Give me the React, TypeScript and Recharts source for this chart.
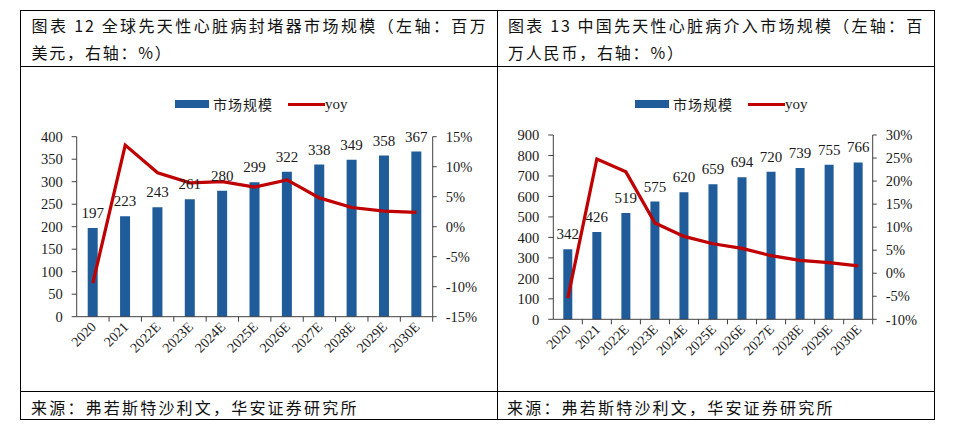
import { ComposedChart, Bar, Line, XAxis, YAxis, LabelList } from "recharts";

const years = ["2020", "2021", "2022E", "2023E", "2024E", "2025E", "2026E", "2027E", "2028E", "2029E", "2030E"];

// 图表12 全球先天性心脏病封堵器市场规模
const globalSize = [197, 223, 243, 261, 280, 299, 322, 338, 349, 358, 367];
const globalYoy = [-9.4, 13.6, 9.0, 7.3, 7.5, 6.6, 7.8, 4.8, 3.2, 2.6, 2.4];
const globalSizeTicks = [0, 50, 100, 150, 200, 250, 300, 350, 400];
const globalYoyTicks = [-15, -10, -5, 0, 5, 10, 15];

// 图表13 中国先天性心脏病介入市场规模
const chinaSize = [342, 426, 519, 575, 620, 659, 694, 720, 739, 755, 766];
const chinaYoy = [-5.4, 24.8, 22.0, 10.9, 8.0, 6.4, 5.4, 3.8, 2.8, 2.3, 1.6];
const chinaSizeTicks = [0, 100, 200, 300, 400, 500, 600, 700, 800, 900];
const chinaYoyTicks = [-10, -5, 0, 5, 10, 15, 20, 25, 30];

const barColor = "#1f5c99";
const lineColor = "#c00000";
const axisColor = "#404040";
const textColor = "#1a1a1a";
const serif = '"Liberation Serif", "Times New Roman", serif';
const cjk = '"Noto Sans CJK SC", "Noto Sans", sans-serif';

function makeXTick(band: number) {
  return (props: any) => {
    const { x, y, payload } = props;
    return (
      <g transform={`translate(${x},${y})`}>
        <line x1={band / 2} y1={0} x2={band / 2} y2={5} stroke={axisColor} />
        <text
          transform="translate(4,11) rotate(-45)"
          textAnchor="end"
          fontSize={14}
          fontFamily={serif}
          fill={textColor}
        >
          {payload.value}
        </text>
      </g>
    );
  };
}

function makeYTick(anchor: "start" | "end", suffix: string) {
  return (props: any) => {
    const { x, y, payload } = props;
    return (
      <text x={x} y={y} dy="0.36em" textAnchor={anchor} fontSize={14.5} fontFamily={serif} fill={textColor}>
        {`${payload.value}${suffix}`}
      </text>
    );
  };
}

interface PanelProps {
  sizes: number[];
  yoy: number[];
  sizeTicks: number[];
  yoyTicks: number[];
  width: number;
  height: number;
  margin: { top: number; right: number; bottom: number; left: number };
  barSize: number;
}

function Panel({ sizes, yoy, sizeTicks, yoyTicks, width, height, margin, barSize }: PanelProps) {
  const data = years.map((year, i) => ({ year, size: sizes[i], yoy: yoy[i] }));
  const axisW = 50;
  const band = (width - margin.left - margin.right - axisW * 2) / years.length;
  return (
    <ComposedChart width={width} height={height} data={data} margin={margin} style={{ fontFamily: serif }}>
      <XAxis
        dataKey="year"
        xAxisId="x"
        height={60}
        interval={0}
        tickLine={false}
        tickSize={0}
        tickMargin={0}
        axisLine={{ stroke: axisColor }}
        tick={makeXTick(band)}
      />
      <YAxis
        yAxisId="left"
        width={axisW}
        domain={[sizeTicks[0], sizeTicks[sizeTicks.length - 1]]}
        ticks={sizeTicks}
        interval={0}
        axisLine={{ stroke: axisColor }}
        tickLine={{ stroke: axisColor }}
        tickSize={5}
        tickMargin={9}
        tick={makeYTick("end", "")}
      />
      <YAxis
        yAxisId="right"
        orientation="right"
        width={axisW}
        domain={[yoyTicks[0], yoyTicks[yoyTicks.length - 1]]}
        ticks={yoyTicks}
        interval={0}
        axisLine={{ stroke: axisColor }}
        tickLine={{ stroke: axisColor }}
        tickSize={4}
        tickMargin={9}
        tick={makeYTick("start", "%")}
      />
      <Bar dataKey="size" xAxisId="x" yAxisId="left" fill={barColor} barSize={barSize} isAnimationActive={false}>
        <LabelList dataKey="size" position="top" offset={10} fontSize={15} fontFamily={serif} fill={textColor} />
      </Bar>
      <Line
        dataKey="yoy"
        xAxisId="x"
        yAxisId="right"
        type="linear"
        stroke={lineColor}
        strokeWidth={3.25}
        dot={false}
        activeDot={false}
        isAnimationActive={false}
      />
    </ComposedChart>
  );
}

function LegendRow({ left }: { left: number }) {
  return (
    <div style={{ position: "absolute", left, top: 94, height: 20, display: "flex", alignItems: "center" }}>
      <span style={{ display: "inline-block", width: 34, height: 7.5, background: barColor }} />
      <span style={{ marginLeft: 4, fontFamily: cjk, fontSize: 14, letterSpacing: 1, color: textColor }}>市场规模</span>
      <span style={{ display: "inline-block", marginLeft: 15, width: 37, height: 3, background: lineColor }} />
      <span style={{ fontFamily: serif, fontSize: 15, color: textColor }}>yoy</span>
    </div>
  );
}

const line = "1.5px solid #000";

export default function App() {
  const titleStyle = {
    position: "absolute" as const,
    top: 11.5,
    fontFamily: cjk,
    fontSize: 16,
    lineHeight: "27px",
    letterSpacing: 1.8,
    color: "#111",
  };
  const sourceStyle = {
    position: "absolute" as const,
    top: 394,
    fontFamily: cjk,
    fontSize: 16,
    lineHeight: "27px",
    letterSpacing: 2.2,
    color: "#111",
  };
  return (
    <div style={{ position: "absolute", left: 0, top: 0, width: 953, height: 442, background: "#fff" }}>
      {/* table frame */}
      <div style={{ position: "absolute", left: 20, top: 10, width: 915, height: 410, border: line, boxSizing: "border-box" }} />
      <div style={{ position: "absolute", left: 20, top: 65.5, width: 915, borderTop: line }} />
      <div style={{ position: "absolute", left: 20, top: 391, width: 915, borderTop: line }} />
      <div style={{ position: "absolute", left: 496.5, top: 10, height: 410, borderLeft: line }} />

      {/* titles */}
      <div style={{ ...titleStyle, left: 31.5, width: 456 }}>
        <div style={{ textAlignLast: "justify" }}>图表 12 全球先天性心脏病封堵器市场规模（左轴：百万</div>
        <div>美元，右轴：%）</div>
      </div>
      <div style={{ ...titleStyle, left: 508, width: 416 }}>
        <div style={{ textAlignLast: "justify" }}>图表 13 中国先天性心脏病介入市场规模（左轴：百</div>
        <div>万人民币，右轴：%）</div>
      </div>

      <LegendRow left={175} />
      <LegendRow left={635} />

      <div style={{ position: "absolute", left: 20, top: 66 }}>
        <Panel
          sizes={globalSize}
          yoy={globalYoy}
          sizeTicks={globalSizeTicks}
          yoyTicks={globalYoyTicks}
          width={477}
          height={325}
          margin={{ top: 70.7, right: 14.3, bottom: 14.3, left: 6.7 }}
          barSize={10}
        />
      </div>
      <div style={{ position: "absolute", left: 497, top: 66 }}>
        <Panel
          sizes={chinaSize}
          yoy={chinaYoy}
          sizeTicks={chinaSizeTicks}
          yoyTicks={chinaYoyTicks}
          width={438}
          height={325}
          margin={{ top: 69, right: 12.3, bottom: 11.7, left: 6.3 }}
          barSize={9}
        />
      </div>

      {/* sources */}
      <div style={{ ...sourceStyle, left: 31 }}>来源：弗若斯特沙利文，华安证券研究所</div>
      <div style={{ ...sourceStyle, left: 507 }}>来源：弗若斯特沙利文，华安证券研究所</div>
    </div>
  );
}
